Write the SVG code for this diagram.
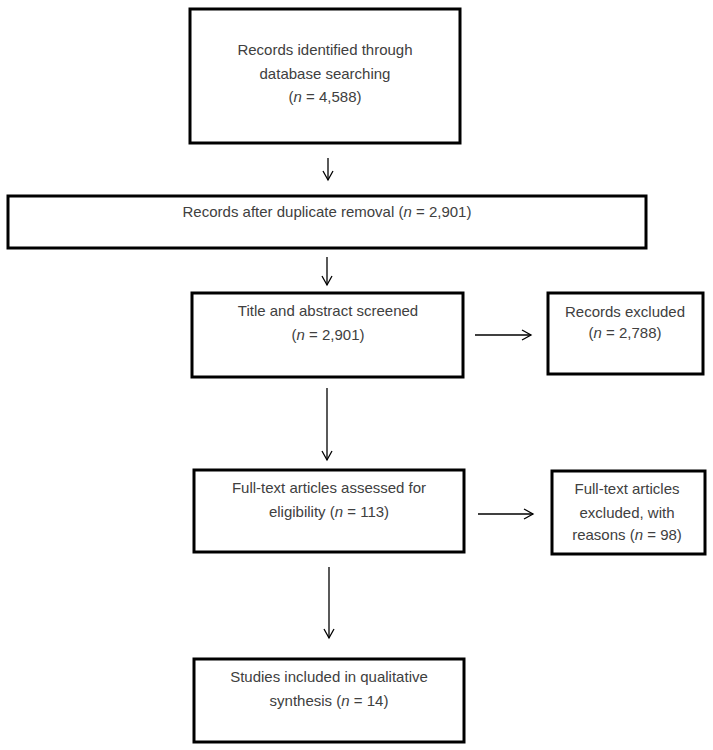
<svg xmlns="http://www.w3.org/2000/svg" width="713" height="750" viewBox="0 0 713 750">
<style>
.box{fill:#fff;stroke:#000;stroke-width:3}
.t{font-family:"Liberation Sans",Arial,sans-serif;font-size:15px;fill:#404040;text-anchor:middle}
.c{stroke:#000;stroke-width:1.3;fill:none}
.h{fill:none;stroke:#000;stroke-width:1.3}
</style>
<defs>
<marker id="a" markerWidth="12" markerHeight="12" refX="10" refY="6" orient="auto" markerUnits="userSpaceOnUse">
<path d="M1,1 L10,6 L1,11" class="h"/>
</marker>
</defs>
<rect width="713" height="750" fill="#fff"/>
<g id="n1">
<rect class="box" x="190" y="9" width="270" height="134"/>
<text class="t" x="325" y="55">Records identified through</text>
<text class="t" x="325" y="79">database searching</text>
<text class="t" x="325" y="102">(<tspan font-style="italic">n</tspan> = 4,588)</text>
</g>
<g id="n2">
<rect class="box" x="8" y="196" width="638" height="52"/>
<text class="t" x="327" y="217">Records after duplicate removal (<tspan font-style="italic">n</tspan> = 2,901)</text>
</g>
<g id="n3">
<rect class="box" x="192" y="293" width="271" height="84"/>
<text class="t" x="328" y="316">Title and abstract screened</text>
<text class="t" x="328" y="340">(<tspan font-style="italic">n</tspan> = 2,901)</text>
</g>
<g id="n4">
<rect class="box" x="548" y="293" width="155" height="81"/>
<text class="t" x="625" y="317">Records excluded</text>
<text class="t" x="625" y="338">(<tspan font-style="italic">n</tspan> = 2,788)</text>
</g>
<g id="n5">
<rect class="box" x="194" y="470" width="270" height="82"/>
<text class="t" x="329" y="493">Full-text articles assessed for</text>
<text class="t" x="329" y="517">eligibility (<tspan font-style="italic">n</tspan> = 113)</text>
</g>
<g id="n6">
<rect class="box" x="552" y="471" width="153" height="83"/>
<text class="t" x="627" y="494">Full-text articles</text>
<text class="t" x="627" y="518">excluded, with</text>
<text class="t" x="627" y="540">reasons (<tspan font-style="italic">n</tspan> = 98)</text>
</g>
<g id="n7">
<rect class="box" x="194" y="659" width="270" height="83"/>
<text class="t" x="329" y="682">Studies included in qualitative</text>
<text class="t" x="329" y="706">synthesis (<tspan font-style="italic">n</tspan> = 14)</text>
</g>
<g id="connectors">
<line class="c" x1="328" y1="158" x2="328" y2="180" marker-end="url(#a)"/>
<line class="c" x1="327" y1="257" x2="327" y2="285" marker-end="url(#a)"/>
<line class="c" x1="327" y1="388" x2="327" y2="460" marker-end="url(#a)"/>
<line class="c" x1="329" y1="567" x2="329" y2="638" marker-end="url(#a)"/>
<line class="c" x1="475" y1="335" x2="531" y2="335" marker-end="url(#a)"/>
<line class="c" x1="478" y1="514" x2="533" y2="514" marker-end="url(#a)"/>
</g>
</svg>
